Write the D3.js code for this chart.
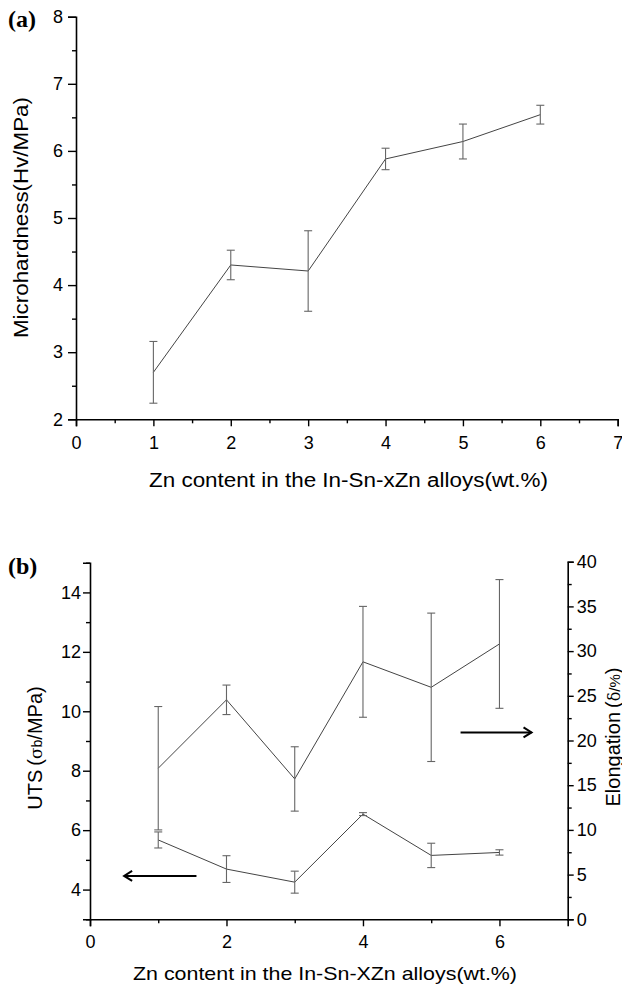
<!DOCTYPE html>
<html>
<head>
<meta charset="utf-8">
<script src="https://cdn.jsdelivr.net/npm/d3@7"></script>
<style>
  html, body { margin: 0; padding: 0; background: #fff; }
  svg { display: block; }
  text { font-family: "Liberation Sans", Arial, sans-serif; fill: #000; }
</style>
</head>
<body>
<svg id="chart" width="622" height="989"></svg>
<script>
// ---------- DATA ----------
const zn = [1, 2, 3, 4, 5, 6];
// panel (a)
const hardness    = [2.70, 4.30, 4.21, 5.88, 6.14, 6.54];
const hardnessErr = [0.46, 0.22, 0.60, 0.16, 0.26, 0.14];
// panel (b)
const uts         = [5.67, 4.69, 4.25, 6.54, 5.15, 5.25];
const utsErr      = [0.27, 0.45, 0.37, 0.05, 0.41, 0.09];
const elongation  = [16.9, 24.55, 15.7, 28.8, 25.95, 30.8];
const elongErr    = [6.9, 1.65, 3.6, 6.2, 8.3, 7.2];
// tick labels
const aXTicks = [0, 1, 2, 3, 4, 5, 6, 7];
const aYTicks = [2, 3, 4, 5, 6, 7, 8];
const bXTicks = [0, 2, 4, 6];
const bYLeftTicks = [4, 6, 8, 10, 12, 14];
const bYRightTicks = [0, 5, 10, 15, 20, 25, 30, 35, 40];
// arrows (data units): x from -> to, y on the respective axis
const utsArrow   = [1.56, 0.50, 4.46];   // points left, left axis
const elongArrow = [5.43, 6.47, 20.9];   // points right, right axis

// ---------- DRAW ----------
const svg = d3.select("#chart");
const lineCol = "#444", errCol = "#666";
const tickFs = 18;

function errorBars(g, xs, xsScale, ysScale, vals, errs) {
  const cap = 4;
  const eb = g.append("g").attr("stroke", errCol).attr("stroke-width", 1.1).attr("fill", "none");
  xs.forEach((x, i) => {
    const px = xsScale(x), top = ysScale(vals[i] + errs[i]), bot = ysScale(vals[i] - errs[i]);
    eb.append("line").attr("x1", px).attr("x2", px).attr("y1", top).attr("y2", bot);
    eb.append("line").attr("x1", px - cap).attr("x2", px + cap).attr("y1", top).attr("y2", top);
    eb.append("line").attr("x1", px - cap).attr("x2", px + cap).attr("y1", bot).attr("y2", bot);
  });
}
function styleAxis(g) {
  g.select(".domain").attr("stroke", "#000").attr("stroke-width", 1.6);
  g.selectAll(".tick line").attr("stroke", "#000").attr("stroke-width", 1.4);
  g.selectAll(".tick text").style("font-size", tickFs + "px").style("font-family", '"Liberation Sans", Arial, sans-serif');
}
function minorAxis(axisFn, scale, vals, size) {
  return axisFn(scale).tickValues(vals).tickSize(size).tickFormat("");
}

// ===== Panel (a) =====
{
  const x = d3.scaleLinear().domain([0, 7]).range([76, 617.7]);
  const y = d3.scaleLinear().domain([2, 8]).range([419.3, 16.7]);
  const g = svg.append("g");

  const gx = g.append("g").attr("transform", `translate(0,${y(2)})`)
    .call(d3.axisBottom(x).tickValues(aXTicks).tickSize(7).tickPadding(10).tickFormat(d3.format("d")));
  styleAxis(gx);
  const gxm = g.append("g").attr("transform", `translate(0,${y(2)})`)
    .call(minorAxis(d3.axisBottom, x, d3.range(0.5, 7, 1), 4));
  styleAxis(gxm); gxm.select(".domain").remove();

  const gy = g.append("g").attr("transform", `translate(${x(0)},0)`)
    .call(d3.axisLeft(y).tickValues(aYTicks).tickSize(8).tickPadding(5).tickFormat(d3.format("d")));
  styleAxis(gy);
  const gym = g.append("g").attr("transform", `translate(${x(0)},0)`)
    .call(minorAxis(d3.axisLeft, y, d3.range(2.5, 8, 1), 4));
  styleAxis(gym); gym.select(".domain").remove();

  g.append("path").datum(zn.map((d, i) => [d, hardness[i]]))
    .attr("fill", "none").attr("stroke", lineCol).attr("stroke-width", 1)
    .attr("d", d3.line().x(d => x(d[0])).y(d => y(d[1])));
  errorBars(g, zn, x, y, hardness, hardnessErr);

  g.append("text").attr("x", 149).attr("y", 487)
    .attr("textLength", 399).attr("lengthAdjust", "spacingAndGlyphs")
    .style("font-size", "19.5px").text("Zn content in the In-Sn-xZn alloys(wt.%)");
  g.append("text").attr("transform", "translate(28,217.5) rotate(-90)")
    .attr("text-anchor", "middle").attr("textLength", 241).attr("lengthAdjust", "spacingAndGlyphs")
    .style("font-size", "21px").text("Microhardness(Hv/MPa)");
  g.append("text").attr("x", 8).attr("y", 27)
    .style("font-family", '"Liberation Serif", "Times New Roman", serif')
    .style("font-weight", "bold").style("font-size", "24px").text("(a)");
}

// ===== Panel (b) =====
{
  const x = d3.scaleLinear().domain([0, 7]).range([90, 567.7]);
  const yL = d3.scaleLinear().domain([3, 15]).range([919.3, 562.7]);
  const yR = d3.scaleLinear().domain([0, 40]).range([919.3, 561.7]);
  const g = svg.append("g");

  const gx = g.append("g").attr("transform", `translate(0,${yL(3)})`)
    .call(d3.axisBottom(x).tickValues(bXTicks).tickSize(7).tickPadding(9).tickFormat(d3.format("d")));
  styleAxis(gx);
  const gxm = g.append("g").attr("transform", `translate(0,${yL(3)})`)
    .call(minorAxis(d3.axisBottom, x, [1, 3, 5], 4));
  styleAxis(gxm); gxm.select(".domain").remove();

  const gy = g.append("g").attr("transform", `translate(${x(0)},0)`)
    .call(d3.axisLeft(yL).tickValues(bYLeftTicks).tickSize(7).tickPadding(2).tickFormat(d3.format("d")));
  styleAxis(gy);
  const gym = g.append("g").attr("transform", `translate(${x(0)},0)`)
    .call(minorAxis(d3.axisLeft, yL, d3.range(3, 16, 2), 4));
  styleAxis(gym); gym.select(".domain").remove();

  const gr = g.append("g").attr("transform", `translate(${x(7)},0)`)
    .call(d3.axisRight(yR).tickValues(bYRightTicks).tickSize(6).tickPadding(3).tickFormat(d3.format("d")));
  styleAxis(gr);
  const grm = g.append("g").attr("transform", `translate(${x(7)},0)`)
    .call(minorAxis(d3.axisRight, yR, d3.range(2.5, 40, 5), 4));
  styleAxis(grm); grm.select(".domain").remove();

  // UTS (left axis)
  g.append("path").datum(zn.map((d, i) => [d, uts[i]]))
    .attr("fill", "none").attr("stroke", lineCol).attr("stroke-width", 1)
    .attr("d", d3.line().x(d => x(d[0])).y(d => yL(d[1])));
  errorBars(g, zn, x, yL, uts, utsErr);
  // Elongation (right axis)
  g.append("path").datum(zn.map((d, i) => [d, elongation[i]]))
    .attr("fill", "none").attr("stroke", lineCol).attr("stroke-width", 1)
    .attr("d", d3.line().x(d => x(d[0])).y(d => yR(d[1])));
  errorBars(g, zn, x, yR, elongation, elongErr);

  // arrows
  function arrow(x1, x2, py) {
    const a = g.append("g").attr("stroke", "#000").attr("stroke-width", 2).attr("fill", "none");
    a.append("line").attr("x1", x1).attr("x2", x2).attr("y1", py).attr("y2", py);
    const dir = x2 > x1 ? -1 : 1;
    a.append("polyline").attr("points", `${x2 + dir * 8},${py - 5} ${x2},${py} ${x2 + dir * 8},${py + 5}`);
  }
  arrow(x(utsArrow[0]), x(utsArrow[1]), yL(utsArrow[2]));
  arrow(x(elongArrow[0]), x(elongArrow[1]), yR(elongArrow[2]));

  g.append("text").attr("x", 133).attr("y", 980)
    .attr("textLength", 384).attr("lengthAdjust", "spacingAndGlyphs")
    .style("font-size", "19px").text("Zn content in the In-Sn-XZn alloys(wt.%)");

  const tl = g.append("text").attr("transform", "translate(42,748) rotate(-90)")
    .attr("text-anchor", "middle").style("font-size", "20px");
  tl.append("tspan").text("UTS\u2009(");
  tl.append("tspan").style("font-family", '"DejaVu Serif", serif').style("font-size", "17px").text("σ");
  tl.append("tspan").style("font-size", "14px").text("b");
  tl.append("tspan").text("/MPa)");

  const tr = g.append("text").attr("transform", "translate(620,737) rotate(-90)")
    .attr("text-anchor", "middle").style("font-size", "20px");
  tr.append("tspan").text("Elongation\u2009(");
  tr.append("tspan").style("font-family", '"DejaVu Serif", serif').style("font-size", "16px").text("δ");
  tr.append("tspan").style("font-size", "15px").text("/%");
  tr.append("tspan").text(")");

  g.append("text").attr("x", 8).attr("y", 574)
    .style("font-family", '"Liberation Serif", "Times New Roman", serif')
    .style("font-weight", "bold").style("font-size", "24px").text("(b)");
}
</script>
</body>
</html>
